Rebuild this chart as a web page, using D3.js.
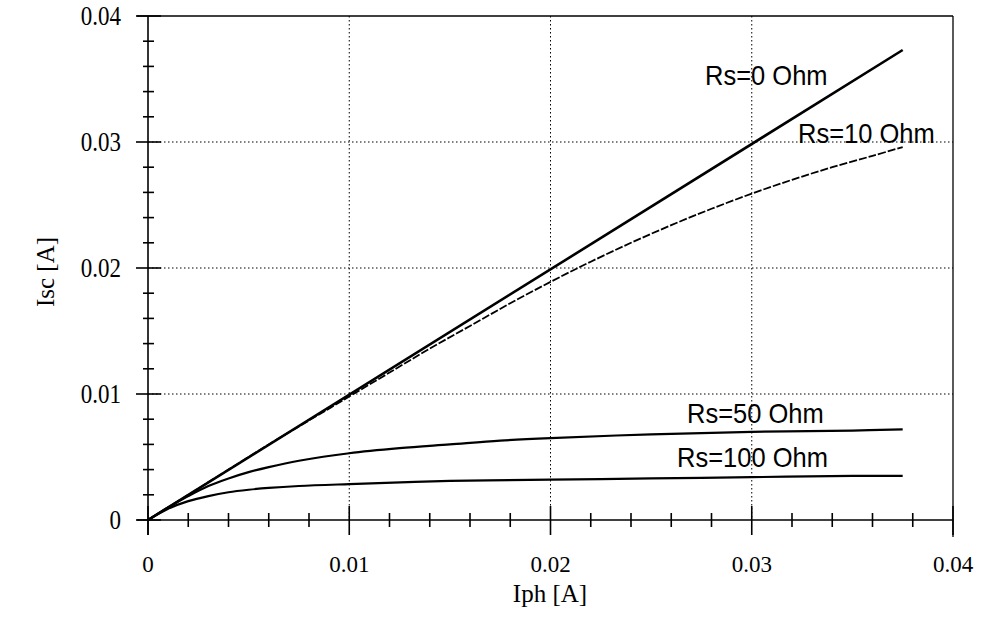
<!DOCTYPE html>
<html><head><meta charset="utf-8">
<script src="https://cdn.jsdelivr.net/npm/d3@7"></script>
<style>body{margin:0;background:#fff}svg{display:block}</style>
</head><body>
<svg id="c" width="982" height="639"></svg>
<script>
const xMajor = [0, 0.01, 0.02, 0.03, 0.04];
const yMajor = [0, 0.01, 0.02, 0.03, 0.04];
const xTickLabels = ["0", "0.01", "0.02", "0.03", "0.04"];
const yTickLabels = ["0", "0.01", "0.02", "0.03", "0.04"];

const rs0_x = [0, 0.0375];
const rs0_y = [0, 0.0373];
const rs10_x = [0, 0.002, 0.004, 0.006, 0.008, 0.01, 0.012, 0.014, 0.016, 0.018, 0.02, 0.022, 0.024, 0.026, 0.028, 0.03, 0.032, 0.034, 0.036, 0.0375];
const rs10_y = [0, 0.002, 0.004, 0.006, 0.0079, 0.0098, 0.0117, 0.0136, 0.0154, 0.0172, 0.0189, 0.0205, 0.0220, 0.0234, 0.0247, 0.0259, 0.0270, 0.0280, 0.0289, 0.0296];
const rs50_x = [0, 0.001, 0.002, 0.003, 0.004, 0.005, 0.006, 0.0075, 0.01, 0.0125, 0.015, 0.0175, 0.02, 0.025, 0.03, 0.035, 0.0375];
const rs50_y = [0, 0.001, 0.0019, 0.0027, 0.0033, 0.0038, 0.0042, 0.0047, 0.0053, 0.0057, 0.0060, 0.0063, 0.0065, 0.0068, 0.0070, 0.0071, 0.0072];
const rs100_x = [0, 0.001, 0.002, 0.003, 0.004, 0.005, 0.006, 0.0075, 0.01, 0.015, 0.02, 0.025, 0.03, 0.035, 0.0375];
const rs100_y = [0, 0.0009, 0.0015, 0.0019, 0.0022, 0.0024, 0.00255, 0.0027, 0.00285, 0.0031, 0.0032, 0.0033, 0.0034, 0.0035, 0.0035];

const seriesLabels = ["Rs=0 Ohm", "Rs=10 Ohm", "Rs=50 Ohm", "Rs=100 Ohm"];

const svg = d3.select("#c");
const x = d3.scaleLinear().domain([0, 0.04]).range([148, 953]);
const y = d3.scaleLinear().domain([0, 0.04]).range([520, 16]);

// grid
const g = svg.append("g");
[0.01, 0.02, 0.03].forEach(v => {
  g.append("line").attr("x1", x(v)).attr("x2", x(v)).attr("y1", y(0.04)).attr("y2", y(0))
    .attr("stroke", "#000").attr("stroke-width", 1).attr("stroke-dasharray", "1.5,2.5");
  g.append("line").attr("y1", y(v)).attr("y2", y(v)).attr("x1", x(0)).attr("x2", x(0.04))
    .attr("stroke", "#000").attr("stroke-width", 1).attr("stroke-dasharray", "1.5,2.5");
});

// frame
const ax = svg.append("g").attr("stroke", "#000").attr("stroke-width", 1.6);
ax.append("line").attr("x1", x(0)).attr("x2", x(0)).attr("y1", y(0.04)).attr("y2", y(0) + 15);
ax.append("line").attr("x1", x(0) - 11).attr("x2", x(0.04)).attr("y1", y(0)).attr("y2", y(0));
ax.append("line").attr("x1", x(0) - 11).attr("x2", x(0.04)).attr("y1", y(0.04)).attr("y2", y(0.04)).attr("stroke-width", 1.3);
ax.append("line").attr("x1", x(0.04)).attr("x2", x(0.04)).attr("y1", y(0.04)).attr("y2", y(0) + 17).attr("stroke-width", 1.3);

// minor ticks
const minor = d3.range(0, 0.0401, 0.002).filter(v => Math.abs(v / 0.01 - Math.round(v / 0.01)) > 1e-6);
minor.forEach(v => {
  ax.append("line").attr("x1", x(v)).attr("x2", x(v)).attr("y1", y(0) - 7).attr("y2", y(0) + 7);
  ax.append("line").attr("y1", y(v)).attr("y2", y(v)).attr("x1", x(0) - 5).attr("x2", x(0) + 6);
});
xMajor.forEach(v => {
  ax.append("line").attr("x1", x(v)).attr("x2", x(v)).attr("y1", y(0) - 14).attr("y2", y(0) + 15);
});
yMajor.forEach(v => {
  ax.append("line").attr("y1", y(v)).attr("y2", y(v)).attr("x1", x(0) - 12).attr("x2", x(0) + 13);
});

// tick labels
const tl = svg.append("g").attr("font-family", "'Liberation Serif', 'Times New Roman', serif").attr("font-size", 23).attr("fill", "#000");
xMajor.forEach((v, i) => {
  tl.append("text").attr("transform", `translate(${x(v)},572)`).attr("text-anchor", "middle").text(xTickLabels[i]);
});
yMajor.forEach((v, i) => {
  tl.append("text").attr("transform", `translate(121,${y(v) + 9}) scale(1,1.2)`).attr("text-anchor", "end").text(yTickLabels[i]);
});
tl.append("text").attr("transform", "translate(550,602)").attr("text-anchor", "middle").attr("font-size", 25).text("Iph [A]");
tl.append("text").attr("transform", "translate(54,272) rotate(-90)").attr("text-anchor", "middle").attr("font-size", 25).text("Isc [A]");

// curves
const line = d3.line().x(d => x(d[0])).y(d => y(d[1])).curve(d3.curveCatmullRom.alpha(0.5));
const zip = (a, b) => a.map((v, i) => [v, b[i]]);
const cg = svg.append("g").attr("fill", "none").attr("stroke", "#000");
cg.append("path").attr("d", line(zip(rs0_x, rs0_y))).attr("stroke-width", 2.6);
cg.append("path").attr("d", line(zip(rs10_x, rs10_y))).attr("stroke-width", 1.8).attr("stroke-dasharray", "8,2");
cg.append("path").attr("d", line(zip(rs50_x, rs50_y))).attr("stroke-width", 2.2);
cg.append("path").attr("d", line(zip(rs100_x, rs100_y))).attr("stroke-width", 2.2);

// series labels
const lg = svg.append("g").attr("font-family", "'Liberation Sans', Arial, sans-serif").attr("font-size", 25.5).attr("fill", "#000");
const labelPos = [[705, 85], [798, 143], [687, 423], [677, 467]];
seriesLabels.forEach((t, i) => {
  lg.append("text").attr("transform", `translate(${labelPos[i][0]},${labelPos[i][1]}) scale(1,1.1)`).text(t);
});
</script>
</body></html>
